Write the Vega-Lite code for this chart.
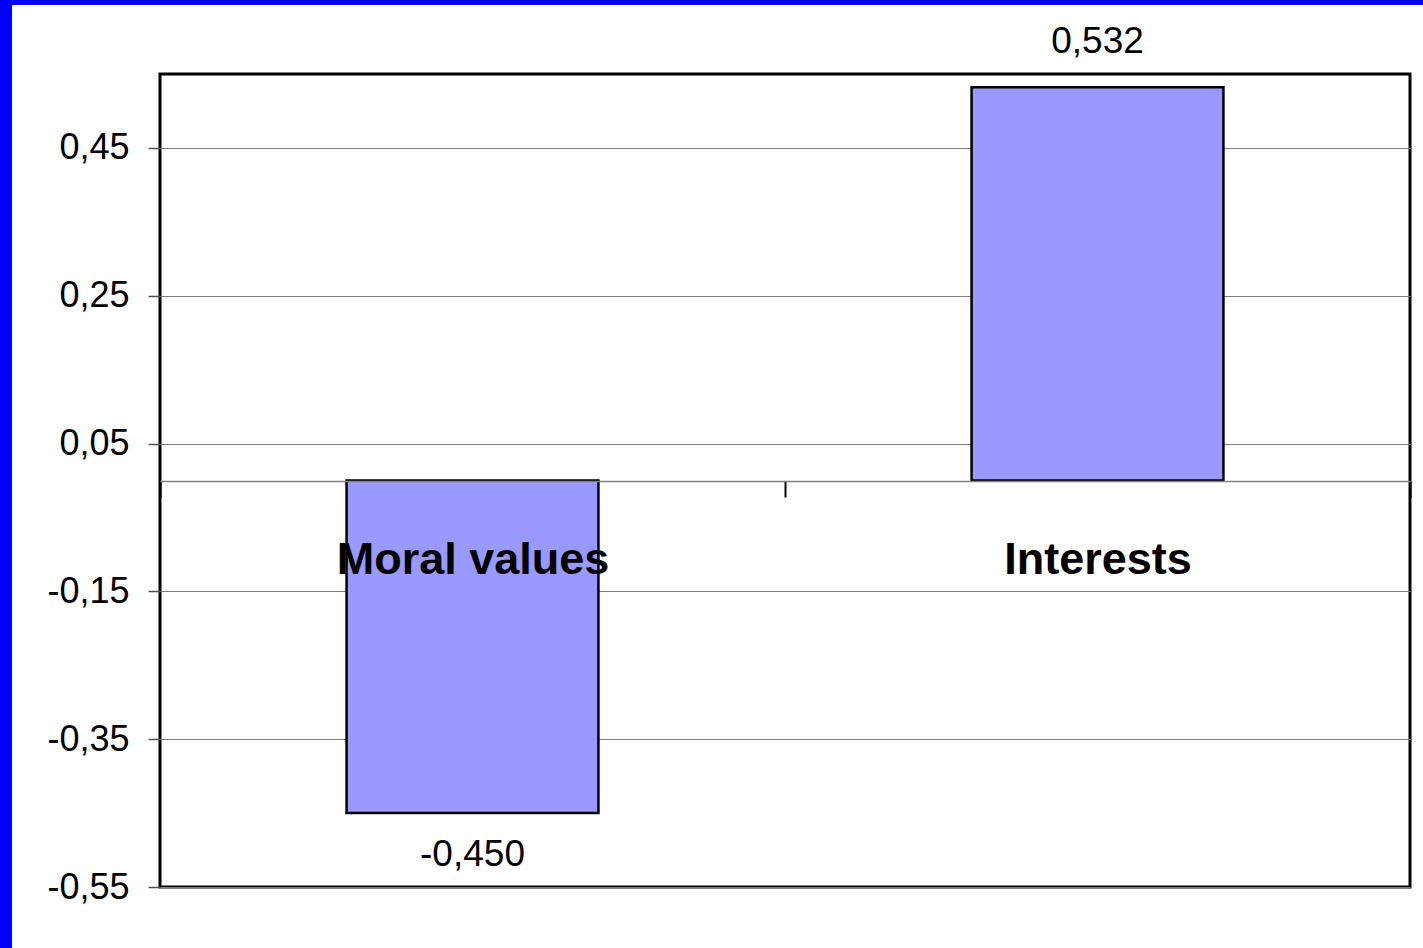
{
  "$schema": "https://vega.github.io/schema/vega-lite/v6.json",
  "padding": 0,
  "background": "white",
  "columns": 2,
  "align": "none",
  "spacing": 0,
  "bounds": "full",
  "concat": [
    {
      "width": 12,
      "height": 5,
      "data": {"values": []},
      "mark": "rect",
      "encoding": {},
      "view": {"fill": "#0000FF", "stroke": null}
    },
    {
      "width": 1411,
      "height": 5,
      "data": {"values": []},
      "mark": "rect",
      "encoding": {},
      "view": {"fill": "#0000FF", "stroke": null}
    },
    {
      "width": 12,
      "height": 943,
      "data": {"values": []},
      "mark": "rect",
      "encoding": {},
      "view": {"fill": "#0000FF", "stroke": null}
    },
    {
      "width": 1250,
      "height": 813,
      "view": {"stroke": "black", "strokeWidth": 3, "fill": "white"},
      "data": {
        "values": [
          {"category": "Moral values", "value": -0.45},
          {"category": "Interests", "value": 0.532}
        ]
      },
      "encoding": {
        "y": {
          "field": "value",
          "type": "quantitative",
          "scale": {"domain": [-0.55, 0.55], "nice": false},
          "axis": {
            "values": [-0.55, -0.35, -0.15, 0.05, 0.25, 0.45],
            "format": ".2f",
            "title": null,
            "grid": true,
            "gridColor": "#808080",
            "gridWidth": 1,
            "domain": false,
            "tickSize": 12,
            "tickColor": "#505050",
            "tickWidth": 1.5,
            "labelFontSize": 36,
            "labelColor": "black",
            "labelPadding": 19,
            "labelLimit": 400,
            "labelOverlap": false,
            "minExtent": 146,
            "maxExtent": 146
          }
        }
      },
      "layer": [
        {
          "mark": {"type": "bar", "width": {"band": 0.403}, "fill": "#9999FF", "stroke": "black", "strokeWidth": 2.5},
          "encoding": {
            "x": {
              "field": "category",
              "type": "nominal",
              "sort": null,
              "scale": {"paddingInner": 0, "paddingOuter": 0},
              "axis": {
                "orient": "bottom",
                "offset": -406,
                "zindex": 1,
                "title": null,
                "grid": false,
                "tickBand": "extent",
                "tickSize": 16,
                "tickColor": "black",
                "tickWidth": 2,
                "domainColor": "#808080",
                "domainWidth": 1.5,
                "labelAngle": 0,
                "labelFontSize": 45,
                "labelFontWeight": "bold",
                "labelColor": "black",
                "labelPadding": 40,
                "labelLimit": 800,
                "labelOverlap": false
              }
            }
          }
        },
        {
          "transform": [{"filter": "datum.value >= 0"}],
          "mark": {"type": "text", "dy": -34, "baseline": "alphabetic", "fontSize": 37, "color": "black"},
          "encoding": {
            "x": {
              "field": "category",
              "type": "nominal",
              "sort": null,
              "axis": {
                "orient": "top",
                "title": null,
                "labels": false,
                "ticks": false,
                "domain": false,
                "grid": false,
                "minExtent": 67,
                "maxExtent": 67
              }
            },
            "text": {"field": "value", "type": "quantitative", "format": ".3f"}
          }
        },
        {
          "transform": [{"filter": "datum.value < 0"}],
          "mark": {"type": "text", "dy": 53, "baseline": "alphabetic", "fontSize": 37, "color": "black"},
          "encoding": {
            "x": {"field": "category", "type": "nominal", "sort": null, "axis": null},
            "text": {"field": "value", "type": "quantitative", "format": ".3f"}
          }
        }
      ],
      "resolve": {"axis": {"x": "independent"}}
    }
  ],
  "config": {
    "font": "Liberation Sans, Arial, sans-serif",
    "axis": {"labelFont": "Liberation Sans, Arial, sans-serif"},
    "text": {"font": "Liberation Sans, Arial, sans-serif"},
    "locale": {
      "number": {
        "decimal": ",",
        "thousands": ".",
        "grouping": [3],
        "currency": ["", " €"],
        "minus": "-"
      }
    }
  }
}
